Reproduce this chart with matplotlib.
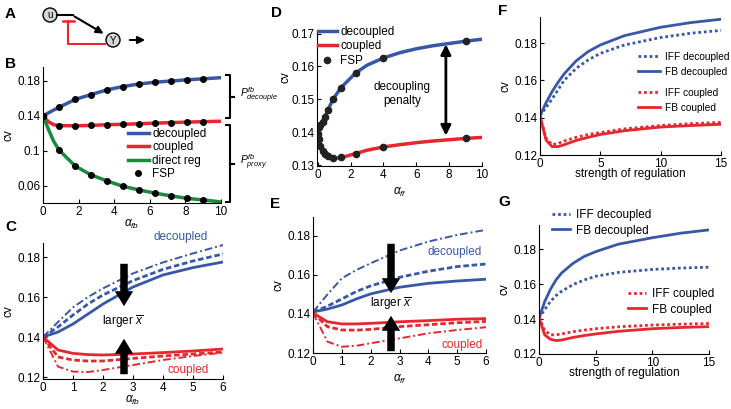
import numpy as np
import matplotlib
matplotlib.use('Agg')
import matplotlib.pyplot as plt
from matplotlib.patches import Circle

plt.rcParams['font.family'] = ['Liberation Sans', 'DejaVu Sans']
plt.rcParams['font.size'] = 8.5
plt.rcParams['mathtext.fontset'] = 'custom'
plt.rcParams['mathtext.rm'] = 'Liberation Sans'
plt.rcParams['mathtext.it'] = 'Liberation Sans:italic'

BLUE = '#3857a6'
RED = '#e8262d'
GREEN = '#1a8a3c'

# ---- panel B ----
b_x = [0, 0.3, 0.6, 0.9, 1.8, 2.7, 3.6, 4.5, 5.4, 6.3, 7.2, 8.1, 9.0, 10]
b_dec = [0.140, 0.1435, 0.1468, 0.1499, 0.1589, 0.1645, 0.1699, 0.1737, 0.1766, 0.1786, 0.1800, 0.1814, 0.1825, 0.1838]
b_cou = [0.140, 0.1335, 0.1300, 0.1290, 0.1288, 0.1292, 0.1300, 0.1305, 0.1311, 0.1318, 0.1324, 0.1330, 0.1335, 0.1340]
b_dir = [0.140, 0.1250, 0.1110, 0.1011, 0.0829, 0.0726, 0.0657, 0.0595, 0.0554, 0.0517, 0.0486, 0.0458, 0.0440, 0.0417]
b_fsp_idx = [0, 3, 4, 5, 6, 7, 8, 9, 10, 11, 12]

# ---- panel C ----
c_x = [0, 0.5, 1, 1.5, 2, 3, 4, 5, 6]
c_dec_solid = [0.140, 0.1425, 0.1465, 0.1515, 0.1565, 0.1650, 0.1710, 0.1747, 0.1775]
c_dec_dash = [0.140, 0.1450, 0.1510, 0.1565, 0.1610, 0.1682, 0.1738, 0.1780, 0.1815]
c_dec_dd = [0.140, 0.1475, 0.1548, 0.1600, 0.1643, 0.1718, 0.1773, 0.1818, 0.1860]
c_cou_solid = [0.140, 0.1335, 0.1318, 0.1312, 0.1310, 0.1315, 0.1322, 0.1330, 0.1340]
c_cou_dash = [0.140, 0.1300, 0.1285, 0.1280, 0.1280, 0.1293, 0.1305, 0.1315, 0.1325]
c_cou_dd = [0.140, 0.1252, 0.1227, 0.1225, 0.1235, 0.1260, 0.1285, 0.1305, 0.1322]

# ---- panel D ----
d_fsp_x = [0, 0.05, 0.15, 0.3, 0.45, 0.6, 0.9, 1.4, 2.3, 4, 9]
d_fsp_dec = [0.1412, 0.1415, 0.1422, 0.1432, 0.1445, 0.1468, 0.1500, 0.1535, 0.1580, 0.1626, 0.1677]
d_fsp_cou = [0.1395, 0.1380, 0.1358, 0.1343, 0.1333, 0.1327, 0.1321, 0.1323, 0.1335, 0.1355, 0.1381]
d_x = [0, 0.15, 0.3, 0.6, 0.9, 1.4, 2.3, 3, 4, 5, 6, 7, 8, 9, 10]
d_dec = [0.1410, 0.1420, 0.1432, 0.1466, 0.1498, 0.1535, 0.1580, 0.1604, 0.1626, 0.1642, 0.1654, 0.1663, 0.1670, 0.1677, 0.1683]
d_cou = [0.1410, 0.1362, 0.1343, 0.1326, 0.1320, 0.1322, 0.1335, 0.1345, 0.1355, 0.1362, 0.1368, 0.1373, 0.1377, 0.1381, 0.1384]

# ---- panel E ----
e_x = [0, 0.5, 1, 1.5, 2, 3, 4, 5, 6]
e_dec_solid = [0.141, 0.1425, 0.1446, 0.1477, 0.1503, 0.1537, 0.1557, 0.1569, 0.1578]
e_dec_dash = [0.141, 0.1440, 0.1477, 0.1515, 0.1544, 0.1588, 0.1619, 0.1643, 0.1656]
e_dec_dd = [0.141, 0.1500, 0.1583, 0.1625, 0.1660, 0.1725, 0.1771, 0.1805, 0.1831]
e_cou_solid = [0.1405, 0.1360, 0.1349, 0.1349, 0.1352, 0.1360, 0.1366, 0.1373, 0.1376]
e_cou_dash = [0.1405, 0.1335, 0.1318, 0.1317, 0.1321, 0.1335, 0.1345, 0.1355, 0.1362]
e_cou_dd = [0.1405, 0.1258, 0.1232, 0.1237, 0.1250, 0.1275, 0.1301, 0.1318, 0.1332]

# ---- panels F and G ----
s_x = [0, 0.5, 1, 1.5, 2, 3, 4, 5, 7, 10, 12.5, 15]
f_fb_dec = [0.141, 0.1480, 0.1540, 0.1590, 0.1635, 0.1705, 0.1755, 0.1790, 0.1840, 0.1885, 0.1910, 0.1928]
f_iff_dec = [0.141, 0.1455, 0.1500, 0.1550, 0.1600, 0.1665, 0.1710, 0.1745, 0.1790, 0.1830, 0.1853, 0.1868]
f_fb_cou = [0.141, 0.1280, 0.1245, 0.1245, 0.1255, 0.1278, 0.1295, 0.1310, 0.1330, 0.1350, 0.1358, 0.1365]
f_iff_cou = [0.141, 0.1290, 0.1255, 0.1262, 0.1275, 0.1295, 0.1310, 0.1320, 0.1340, 0.1358, 0.1368, 0.1375]
g_fb_dec = [0.1405, 0.1500, 0.1570, 0.1625, 0.1665, 0.1720, 0.1760, 0.1787, 0.1830, 0.1867, 0.1893, 0.1912]
g_iff_dec = [0.1405, 0.1455, 0.1500, 0.1535, 0.1560, 0.1598, 0.1625, 0.1646, 0.1668, 0.1685, 0.1693, 0.1698]
g_fb_cou = [0.141, 0.1310, 0.1285, 0.1277, 0.1280, 0.1295, 0.1306, 0.1315, 0.1330, 0.1345, 0.1352, 0.1357]
g_iff_cou = [0.141, 0.1335, 0.1310, 0.1310, 0.1315, 0.1328, 0.1337, 0.1345, 0.1356, 0.1366, 0.1371, 0.1375]

W, H = 731, 409
fig = plt.figure(figsize=(W / 100, H / 100), dpi=100)

# overlay in pixel coords for diagram, brackets, letters, annotations (on top)
ov = fig.add_axes([0, 0, 1, 1])
ov.set_xlim(0, W)
ov.set_ylim(H, 0)
ov.axis('off')
ov.set_zorder(10)


def panel(l, t, r, b):
    ax = fig.add_axes([l / W, 1 - b / H, (r - l) / W, (b - t) / H])
    for s in ['top', 'right']:
        ax.spines[s].set_visible(False)
    ax.tick_params(direction='in', length=3, width=0.8, pad=2, labelsize=8.5)
    return ax


def fpos(x, y):
    return (x / W, 1 - y / H)


# ---- A ----
for cx, cy, lab in [(50, 15, 'u'), (113, 40, 'Y')]:
    ov.add_patch(Circle((cx, cy), 7, facecolor='#d6d6d6', edgecolor='k', lw=1))
    ov.text(cx, cy + 0.5, lab, ha='center', va='center', fontsize=7)
ov.plot([57, 73], [15, 15], color='k', lw=1.5)
ov.annotate('', xy=(106, 35), xytext=(72, 15),
            arrowprops=dict(arrowstyle='-|>,head_width=0.25,head_length=0.5', lw=1.5, color='k'))
ov.plot([105, 68, 68], [44, 44, 21], color=RED, lw=1.5)
ov.plot([63, 74], [21, 21], color=RED, lw=1.8)
ov.annotate('', xy=(148, 40), xytext=(127, 40),
            arrowprops=dict(arrowstyle='-|>,head_width=0.25,head_length=0.5', lw=1.5, color='k'))

# letters
for lx, ly, L in [(5, 7, 'A'), (5, 57, 'B'), (5, 220, 'C'), (271, 6, 'D'),
                  (270, 197, 'E'), (498, 4, 'F'), (498, 195, 'G')]:
    ov.text(lx, ly, L, fontsize=11, fontweight='bold', va='top', ha='left')

# ---- B ----
axB = panel(43, 67, 221, 203)
lB1, = axB.plot(b_x, b_dec, color=BLUE, lw=2.5, label='decoupled')
lB2, = axB.plot(b_x, b_cou, color=RED, lw=2.5, label='coupled')
lB3, = axB.plot(b_x, b_dir, color=GREEN, lw=2.5, label='direct reg')
for ys in [b_dec, b_cou, b_dir]:
    lB4, = axB.plot([b_x[i] for i in b_fsp_idx], [ys[i] for i in b_fsp_idx], 'o', color='k',
                    ms=4, label='FSP')
axB.set_xlim(0, 10)
axB.set_ylim(0.0405, 0.196)
axB.set_xticks(range(0, 11, 2))
axB.set_yticks([0.06, 0.1, 0.14, 0.18], ['0.06', '0.1', '0.14', '0.18'])
axB.set_xlabel(r'$\alpha_{fb}$', labelpad=0)
axB.set_ylabel('cv', labelpad=2)
fig.legend(handles=[lB1, lB2, lB3, lB4], loc='upper left', bbox_to_anchor=fpos(128, 128),
           frameon=False, borderpad=0, borderaxespad=0, handlelength=1.75, handletextpad=0.3,
           labelspacing=0.12, fontsize=8.5)

# brackets
for y0, y1, ty, lab in [(75, 118, 95, r'$P^{fb}_{decouple}$'), (125, 202, 162, r'$P^{fb}_{proxy}$')]:
    ov.plot([226, 230, 230, 226], [y0, y0, y1, y1], color='k', lw=1.5)
    ov.plot([230, 234], [(y0 + y1) / 2, (y0 + y1) / 2], color='k', lw=1.5)
    ov.text(240, ty, lab, fontsize=7.5, va='center', ha='left')

# ---- C ----
axC = panel(43, 243, 223, 379)
axC.plot(c_x, c_dec_solid, color=BLUE, lw=2)
axC.plot(c_x, c_dec_dash, color=BLUE, lw=2, ls=(0, (2, 1)))
axC.plot(c_x, c_dec_dd, color=BLUE, lw=1.4, ls=(0, (4, 1.5, 1, 1.5)))
axC.plot(c_x, c_cou_solid, color=RED, lw=2)
axC.plot(c_x, c_cou_dash, color=RED, lw=2, ls=(0, (2, 1)))
axC.plot(c_x, c_cou_dd, color=RED, lw=1.4, ls=(0, (4, 1.5, 1, 1.5)))
axC.set_xlim(0, 6)
axC.set_ylim(0.119, 0.187)
axC.set_xticks(range(0, 7))
axC.set_yticks([0.12, 0.14, 0.16, 0.18])
axC.set_xlabel(r'$\alpha_{fb}$', labelpad=0)
axC.set_ylabel('cv', labelpad=2)
ov.text(153, 237, 'decoupled', color=BLUE, va='center', fontsize=8.5)
ov.text(168, 370, 'coupled', color=RED, va='center', fontsize=8.5)
ov.text(102, 322, r'larger $\overline{x}$', va='center', fontsize=8.5)
arr = dict(arrowstyle='simple,head_width=1.1,head_length=0.9,tail_width=0.45', color='k', lw=0)
ov.annotate('', xy=(124, 309), xytext=(124, 261), arrowprops=dict(arr, mutation_scale=12))
ov.annotate('', xy=(124, 336), xytext=(124, 377), arrowprops=dict(arr, mutation_scale=12))

# ---- D ----
axD = panel(317, 32, 482, 166)
lD1, = axD.plot(d_x, d_dec, color=BLUE, lw=2.5, label='decoupled')
lD2, = axD.plot(d_x, d_cou, color=RED, lw=2.5, label='coupled')
axD.plot(d_fsp_x, d_fsp_cou, 'o', color='#222222', ms=4.5)
lD3, = axD.plot(d_fsp_x, d_fsp_dec, 'o', color='#222222', ms=4.5, label='FSP')
axD.set_xlim(-0.05, 10)
axD.set_ylim(0.1297, 0.1705)
axD.set_xticks(range(0, 11, 2))
axD.set_yticks([0.13, 0.14, 0.15, 0.16, 0.17])
axD.set_xlabel(r'$\alpha_{ff}$', labelpad=4)
axD.set_ylabel('cv')
axD.yaxis.set_label_coords(-0.155, 0.66)
fig.legend(handles=[lD1, lD2, lD3], loc='upper left', bbox_to_anchor=fpos(318, 26),
           frameon=False, borderpad=0, borderaxespad=0, handlelength=1.6, handletextpad=0.3,
           labelspacing=0.2, fontsize=8.5)
axD.annotate('', xy=(7.8, 0.1676), xytext=(7.8, 0.1381),
             arrowprops=dict(arrowstyle='<|-|>,head_width=0.35,head_length=0.7', lw=2, color='k'))
ov.text(402, 94, 'decoupling\npenalty', ha='center', va='center', fontsize=8.5, linespacing=1.3)

# ---- E ----
axE = panel(313, 217, 486, 353)
axE.plot(e_x, e_dec_solid, color=BLUE, lw=2)
axE.plot(e_x, e_dec_dash, color=BLUE, lw=2, ls=(0, (2, 1)))
axE.plot(e_x, e_dec_dd, color=BLUE, lw=1.4, ls=(0, (4, 1.5, 1, 1.5)))
axE.plot(e_x, e_cou_solid, color=RED, lw=2)
axE.plot(e_x, e_cou_dash, color=RED, lw=2, ls=(0, (2, 1)))
axE.plot(e_x, e_cou_dd, color=RED, lw=1.4, ls=(0, (4, 1.5, 1, 1.5)))
axE.set_xlim(0, 6)
axE.set_ylim(0.12, 0.1897)
axE.set_xticks(range(0, 7))
axE.set_yticks([0.12, 0.14, 0.16, 0.18])
axE.set_xlabel(r'$\alpha_{ff}$', labelpad=4)
axE.set_ylabel('cv', labelpad=2)
ov.text(428, 252, 'decoupled', color=BLUE, va='center', fontsize=8.5)
ov.text(441, 345, 'coupled', color=RED, va='center', fontsize=8.5)
ov.text(370, 304, r'larger $\overline{x}$', va='center', fontsize=8.5)
ov.annotate('', xy=(391, 296), xytext=(391, 241), arrowprops=dict(arr, mutation_scale=12))
ov.annotate('', xy=(391, 313), xytext=(391, 354), arrowprops=dict(arr, mutation_scale=12))

# ---- F ----
axF = panel(540, 17, 721, 155)
lF1, = axF.plot(s_x, f_iff_dec, color=BLUE, lw=2, ls=(0, (1, 1)), label='IFF decoupled')
lF2, = axF.plot(s_x, f_fb_dec, color=BLUE, lw=2, label='FB decoupled')
lF3, = axF.plot(s_x, f_iff_cou, color=RED, lw=2, ls=(0, (1, 1)), label='IFF coupled')
lF4, = axF.plot(s_x, f_fb_cou, color=RED, lw=2, label='FB coupled')
axF.set_xlim(0, 15)
axF.set_ylim(0.12, 0.194)
axF.set_xticks([0, 5, 10, 15])
axF.set_yticks([0.12, 0.14, 0.16, 0.18])
axF.set_xlabel('strength of regulation', labelpad=-1)
axF.set_ylabel('cv', labelpad=2)
kw = dict(loc='upper left', frameon=False, borderpad=0, borderaxespad=0, handlelength=2.2,
          handletextpad=0.5, labelspacing=0.45)
fig.legend(handles=[lF1, lF2], bbox_to_anchor=fpos(638, 52), fontsize=7.3, **kw)
fig.legend(handles=[lF3, lF4], bbox_to_anchor=fpos(638, 88), fontsize=7.3, **kw)

# ---- G ----
axG = panel(539, 225, 709, 354)
lG1, = axG.plot(s_x, g_iff_dec, color=BLUE, lw=2, ls=(0, (1, 1)), label='IFF decoupled')
lG2, = axG.plot(s_x, g_fb_dec, color=BLUE, lw=2, label='FB decoupled')
lG3, = axG.plot(s_x, g_iff_cou, color=RED, lw=2, ls=(0, (1, 1)), label='IFF coupled')
lG4, = axG.plot(s_x, g_fb_cou, color=RED, lw=2, label='FB coupled')
axG.set_xlim(0, 15)
axG.set_ylim(0.12, 0.194)
axG.set_xticks([0, 5, 10, 15])
axG.set_yticks([0.12, 0.14, 0.16, 0.18])
axG.set_xlabel('strength of regulation', labelpad=-1)
axG.set_ylabel('cv', labelpad=2)
kw = dict(loc='upper left', frameon=False, borderpad=0, borderaxespad=0, handlelength=1.5,
          handletextpad=0.5, labelspacing=0.3)
fig.legend(handles=[lG1, lG2], bbox_to_anchor=fpos(552, 209), fontsize=8.5, **kw)
fig.legend(handles=[lG3, lG4], bbox_to_anchor=fpos(628, 288), fontsize=8.5, **kw)

fig.savefig('out.png', dpi=100)
